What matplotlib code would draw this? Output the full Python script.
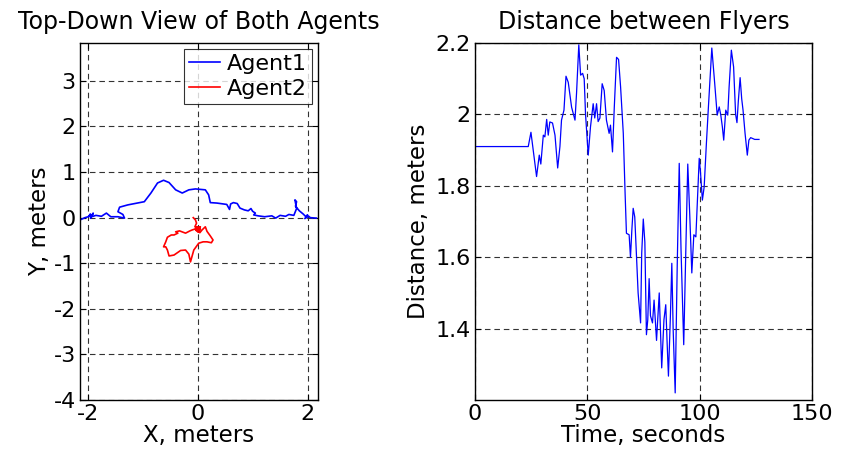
import matplotlib
matplotlib.use("Agg")
import matplotlib.pyplot as plt
from matplotlib.ticker import FormatStrFormatter

plt.rcParams['font.family'] = ['DejaVu Sans']
plt.rcParams['axes.unicode_minus'] = False

# Agent paths, top-down view (meters)
agent1_x = [-2.14, -2.05, -1.99, -1.95, -1.97, -1.92, -1.95, -1.90, -1.93, -1.85, -1.75, -1.66,
            -1.58, -1.45, -1.33, -1.36, -1.45, -1.42, -1.27, -0.97, -0.85, -0.73, -0.62, -0.52,
            -0.40, -0.28, -0.16, -0.04, 0.14, 0.20, 0.23, 0.35, 0.53, 0.58, 0.60, 0.65, 0.72,
            0.77, 0.85, 0.92, 0.97, 1.00, 1.05, 1.02, 1.10, 1.22, 1.35, 1.42, 1.50, 1.60, 1.66,
            1.75, 1.80, 1.77, 1.80, 1.78, 1.85, 1.92, 1.97, 2.00, 1.95, 2.02, 2.05, 2.16]
agent1_y = [-0.05, 0.00, 0.02, 0.08, 0.03, 0.06, -0.01, 0.10, 0.02, 0.05, 0.03, 0.10,
            0.02, 0.02, -0.01, 0.07, 0.13, 0.23, 0.28, 0.35, 0.54, 0.76, 0.82, 0.77,
            0.61, 0.54, 0.61, 0.63, 0.61, 0.50, 0.33, 0.32, 0.29, 0.18, 0.30, 0.33, 0.31,
            0.21, 0.17, 0.15, 0.20, 0.14, 0.10, 0.06, 0.04, 0.02, 0.04, -0.01, 0.05, 0.03, 0.07,
            0.05, 0.20, 0.39, 0.35, 0.25, 0.15, 0.08, 0.02, 0.06, -0.02, 0.03, 0.00, -0.01]

agent2_x = [-0.08, -0.04, -0.02, -0.05, 0.00, -0.03, 0.03, 0.00, 0.05, -0.02, 0.04, 0.08, 0.14,
            0.17, 0.23, 0.28, 0.25, 0.17, 0.10, 0.02, -0.07, -0.13, -0.16, -0.22, -0.31, -0.43,
            -0.52, -0.55, -0.58, -0.62, -0.58, -0.55, -0.48, -0.43, -0.36, -0.40, -0.33, -0.22,
            -0.14, -0.10, -0.05, 0.00, 0.03, -0.02, 0.05, 0.01, -0.04, 0.04]
agent2_y = [0.00, -0.05, -0.12, -0.20, -0.22, -0.28, -0.25, -0.30, -0.20, -0.24, -0.33, -0.27, -0.20,
            -0.30, -0.40, -0.49, -0.55, -0.53, -0.53, -0.56, -0.71, -0.97, -0.80, -0.71, -0.72, -0.82,
            -0.84, -0.71, -0.64, -0.64, -0.53, -0.43, -0.38, -0.38, -0.34, -0.31, -0.29, -0.34,
            -0.29, -0.27, -0.25, -0.20, -0.30, -0.22, -0.25, -0.32, -0.26, -0.21]

# distance between flyers over time
time_s = [0.0, 23.7, 24.9, 27.4, 28.6, 29.3, 30.4, 31.1, 31.9, 32.6, 33.3, 34.5, 35.6, 36.8, 37.8,
          38.5, 39.6, 40.5, 41.5, 43.0, 44.5, 45.2, 46.2, 47.0, 47.9, 48.6, 49.2, 50.4, 51.4,
          52.6, 53.3, 54.1, 54.8, 55.6, 56.6, 57.5, 58.5, 59.7, 60.3, 61.2, 62.0, 63.0, 63.9,
          64.8, 66.0, 66.8, 67.4, 68.6, 69.2, 69.8, 70.4, 71.1, 71.9, 72.6, 73.7, 74.2, 74.9,
          75.6, 76.3, 76.9, 77.5, 78.1, 79.0, 79.7, 80.8, 82.0, 83.1, 84.1, 84.9, 85.5, 86.1,
          87.0, 87.6, 88.2, 89.1, 90.0, 90.9, 91.7, 92.9, 93.8, 94.7, 95.6, 96.5, 97.4, 98.3,
          99.0, 99.8, 100.4, 101.2, 102.0, 103.0, 103.9, 105.4, 106.7, 107.8, 108.7, 109.4,
          110.1, 110.7, 111.6, 112.5, 113.1, 114.1, 115.1, 116.0, 116.6, 117.2, 118.0, 118.7,
          119.3, 120.2, 121.2, 121.9, 122.7, 124.5, 126.4]
distance_m = [1.910, 1.910, 1.950, 1.826, 1.886, 1.861, 1.942, 1.937, 1.986, 1.942, 1.979, 1.976, 1.942,
              1.850, 1.910, 1.984, 2.012, 2.107, 2.090, 2.020, 1.984, 2.060, 2.195, 2.110, 2.115,
              2.100, 2.000, 1.886, 1.965, 2.030, 1.990, 2.030, 1.980, 1.990, 2.086, 2.067, 1.984,
              1.947, 1.970, 1.895, 2.021, 2.160, 2.154, 2.077, 1.947, 1.780, 1.667, 1.663, 1.600,
              1.675, 1.737, 1.713, 1.600, 1.500, 1.416, 1.611, 1.707, 1.642, 1.383, 1.425, 1.540,
              1.436, 1.416, 1.480, 1.367, 1.500, 1.290, 1.425, 1.467, 1.362, 1.267, 1.442, 1.583,
              1.397, 1.220, 1.574, 1.863, 1.621, 1.355, 1.611, 1.861, 1.716, 1.556, 1.663, 1.657,
              1.760, 1.877, 1.835, 1.760, 1.797, 1.920, 2.022, 2.186, 2.086, 1.998, 2.021, 1.998,
              1.965, 1.928, 2.012, 1.998, 2.077, 2.180, 2.133, 2.000, 1.977, 2.037, 2.103, 2.044,
              2.012, 1.947, 1.886, 1.928, 1.935, 1.930, 1.930]

fig = plt.figure(figsize=(8.44, 4.51), dpi=100)
ax1 = fig.add_axes([0.0948, 0.113, 0.282, 0.7916])
ax2 = fig.add_axes([0.5628, 0.113, 0.3993, 0.7916])

grid_style = dict(color='0.2', linestyle=(0, (5, 3.5)), linewidth=0.8)

ax1.plot(agent1_x, agent1_y, color='#0000ff', linewidth=1.2, label='Agent1')
ax1.plot(agent2_x, agent2_y, color='#ff0000', linewidth=1.2, label='Agent2')
ax1.set_xlim(-2.14, 2.19)
ax1.set_ylim(-4, 3.83)
ax1.set_xticks([-2, 0, 2])
ax1.set_yticks(range(-4, 4))
ax1.grid(True, **grid_style)
ax1.set_title('Top-Down View of Both Agents', fontsize=17, pad=10)
ax1.set_xlabel('X, meters', fontsize=16.5, labelpad=0)
ax1.set_ylabel('Y, meters', fontsize=16.5, labelpad=2)
leg = ax1.legend(loc='upper right', fontsize=16, frameon=True, fancybox=False,
                 borderpad=0.25, labelspacing=0.2, handlelength=1.4, handletextpad=0.3,
                 borderaxespad=0.25)
leg.get_frame().set_edgecolor('black')
leg.get_frame().set_linewidth(0.8)

ax2.plot(time_s, distance_m, color='#0000ff', linewidth=0.9)
ax2.set_xlim(0, 150)
ax2.set_ylim(1.2, 2.2)
ax2.set_xticks([0, 50, 100, 150])
ax2.set_yticks([1.4, 1.6, 1.8, 2.0, 2.2])
ax2.yaxis.set_major_formatter(FormatStrFormatter('%g'))
ax2.grid(True, **grid_style)
ax2.set_title('Distance between Flyers', fontsize=17, pad=10)
ax2.set_xlabel('Time, seconds', fontsize=16.5, labelpad=0)
ax2.set_ylabel('Distance, meters', fontsize=16.5, labelpad=4)

for ax in (ax1, ax2):
    ax.tick_params(direction='in', top=True, right=True, length=4, width=0.8,
                   labelsize=16, pad=3)
    for s in ax.spines.values():
        s.set_linewidth(1.0)

fig.savefig('out.png', dpi=100)
